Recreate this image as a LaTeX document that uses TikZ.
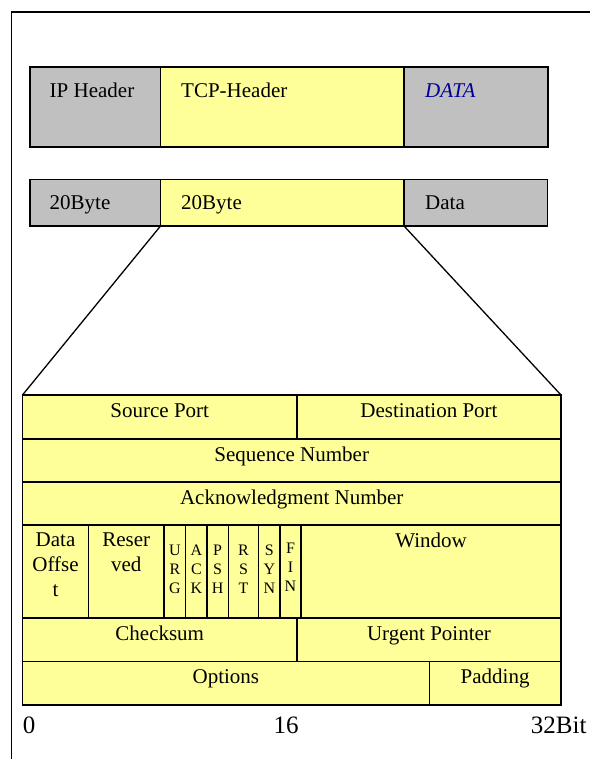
\documentclass[tikz,border=0pt]{standalone}
\usepackage{fontspec}
\setmainfont{Liberation Serif}
\definecolor{hdrgrey}{HTML}{C0C0C0}
\definecolor{hdryellow}{HTML}{FFFF99}
\definecolor{datablue}{RGB}{0,0,153}
\newcommand\mkcell[6]{\node[#6, minimum width={#4-#2}, minimum height={#5-#3}] (#1) at ({(#2+#4)/2},{(#3+#5)/2}) {};}
\begin{document}
\begin{tikzpicture}[x=1pt,y=-1pt,
 greybox/.style={draw, line width=1.5pt, fill=hdrgrey, inner sep=0pt, outer sep=0pt},
 yellowbox/.style={draw, line width=1.5pt, fill=hdryellow, inner sep=0pt, outer sep=0pt},
 tcell/.style={draw, line width=1.1pt, fill=hdryellow, inner sep=0pt, outer sep=0pt},
 lbl/.style={inner sep=0pt, font=\fontsize{21}{25}\selectfont},
 flag/.style={inner sep=0pt, font=\fontsize{16}{19}\selectfont, align=center, anchor=north},
 axislbl/.style={inner sep=0pt, font=\fontsize{25}{30}\selectfont, anchor=base west},
 conn/.style={line width=1.3pt}]
\useasboundingbox (0,0) rectangle (589,759);
\draw[line width=1.3pt] (11.5,800) -- (11.5,12) -- (620,12);
% top rows
\mkcell{ip}{30}{67}{160.5}{147}{greybox}
\mkcell{tcp}{160.5}{67}{404}{147}{yellowbox}
\mkcell{data}{404}{67}{548}{147}{greybox}
\mkcell{ipb}{30}{179.3}{160.5}{226}{greybox}
\mkcell{tcpb}{160.5}{179.3}{404}{226}{yellowbox}
\mkcell{datab}{404}{179.3}{547.5}{226}{greybox}
\node[lbl, anchor=base west] (tip) at (49.5,98) {IP Header};
\node[lbl, anchor=base west] (ttcp) at (181,98) {TCP-Header};
\node[lbl, anchor=base west, text=datablue, font=\fontsize{21}{25}\selectfont\itshape] (tdata) at (425,98) {DATA};
\node[lbl, anchor=base west] (tipb) at (49.5,210) {20Byte};
\node[lbl, anchor=base west] (ttcpb) at (181,210) {20Byte};
\node[lbl, anchor=base west] (tdatab) at (425,210) {Data};
% table
\mkcell{sp}{22.5}{395}{297}{439}{tcell}
\mkcell{dp}{297}{395}{561}{439}{tcell}
\mkcell{seq}{22.5}{439}{561}{482}{tcell}
\mkcell{ack}{22.5}{482}{561}{525}{tcell}
\mkcell{doff}{22.5}{525}{88.5}{618}{tcell}
\mkcell{res}{88.5}{525}{164}{618}{tcell}
\mkcell{urg}{164}{525}{185.7}{618}{tcell}
\mkcell{ackf}{185.7}{525}{207}{618}{tcell}
\mkcell{psh}{207}{525}{228.3}{618}{tcell}
\mkcell{rst}{228.3}{525}{258.7}{618}{tcell}
\mkcell{syn}{258.7}{525}{280}{618}{tcell}
\mkcell{fin}{280}{525}{301}{618}{tcell}
\mkcell{win}{301}{525}{561}{618}{tcell}
\mkcell{chk}{22.5}{618}{297}{661.7}{tcell}
\mkcell{urp}{297}{618}{561}{661.7}{tcell}
\mkcell{opt}{22.5}{661.7}{429.3}{705}{tcell}
\mkcell{pad}{429.3}{661.7}{561}{705}{tcell}
\draw[line width=1.6pt] (sp.north west) rectangle (pad.south east);
% connectors
\draw[conn] (tcpb.south west) -- (sp.north west);
\draw[conn] (tcpb.south east) -- (dp.north east);
% table texts
\node[lbl, anchor=base] (tsp) at ([yshift=-22pt]sp.north) {Source Port};
\node[lbl, anchor=base] (tdp) at ([yshift=-22pt]dp.north) {Destination Port};
\node[lbl, anchor=base] (tseq) at ([yshift=-22pt]seq.north) {Sequence Number};
\node[lbl, anchor=base] (tack) at ([yshift=-22pt]ack.north) {Acknowledgment Number};
\node[lbl, anchor=base] (twin) at ([yshift=-22pt]win.north) {Window};
\node[lbl, anchor=base] (tchk) at ([yshift=-22pt]chk.north) {Checksum};
\node[lbl, anchor=base] (turp) at ([yshift=-22pt]urp.north) {Urgent Pointer};
\node[lbl, anchor=base] (topt) at ([yshift=-22pt]opt.north) {Options};
\node[lbl, anchor=base] (tpad) at ([yshift=-22pt]pad.north) {Padding};
\node[lbl, align=center, anchor=north] (tdoff) at ([yshift=-7.7pt]doff.north) {Data\\Offse\\t};
\node[lbl, align=center, anchor=north] (tres) at ([yshift=-7.7pt]res.north) {Reser\\ved};
\node[flag] (furg) at ([yshift=-20pt]urg.north) {U\\R\\G};
\node[flag] (fack) at ([yshift=-20pt]ackf.north) {A\\C\\K};
\node[flag] (fpsh) at ([yshift=-20pt]psh.north) {P\\S\\H};
\node[flag] (frst) at ([yshift=-20pt]rst.north) {R\\S\\T};
\node[flag] (fsyn) at ([yshift=-20pt]syn.north) {S\\Y\\N};
\node[flag] (ffin) at ([yshift=-18pt]fin.north) {F\\I\\N};
% bit scale
\node[axislbl] (b0) at (22.7,733) {0};
\node[axislbl] (b16) at (273.5,733) {16};
\node[axislbl] (b32) at (530.7,733) {32Bit};
\end{tikzpicture}
\end{document}
